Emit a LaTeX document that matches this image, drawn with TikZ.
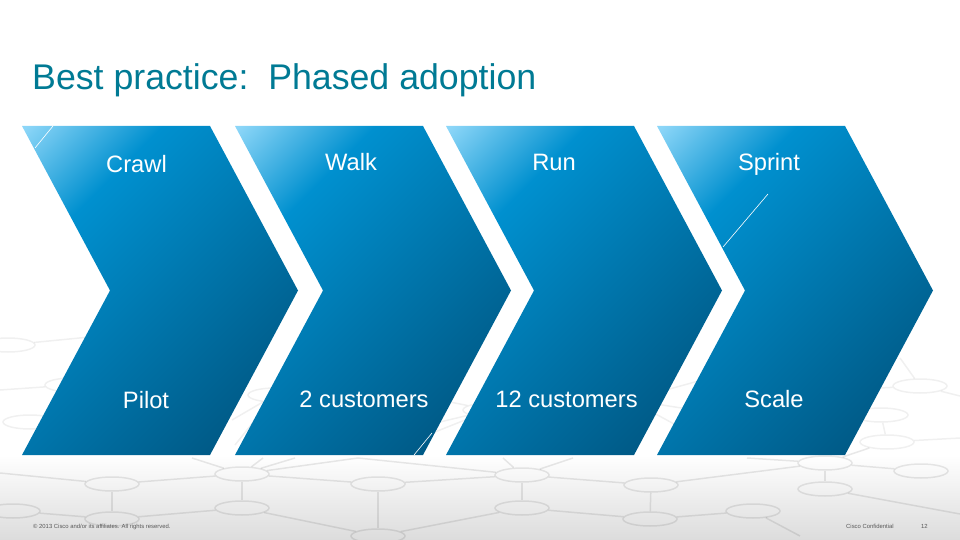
\documentclass[tikz,border=0pt]{standalone}
\usepackage{fontspec}
\setmainfont{Liberation Sans}
\usetikzlibrary{shapes.geometric}

\definecolor{titleteal}{HTML}{007A94}
\definecolor{footgray}{HTML}{DCDCDC}
\definecolor{chevlight}{HTML}{8CD6F8}
\definecolor{chevmid}{HTML}{0090CF}
\definecolor{chevdark}{HTML}{004F78}

\pgfdeclarehorizontalshading{chevshade}{100bp}{
    color(0bp)=(chevlight);
    color(15bp)=(chevlight);
    color(31bp)=(chevmid);
    color(84bp)=(chevdark);
    color(100bp)=(chevdark)}

\tikzset{
    netnode/.style={ellipse, draw=black, opacity=0.09, line width=1.5pt, minimum width=54pt, minimum height=14pt, inner sep=0pt},
    netline/.style={draw=black, opacity=0.09, line width=1.5pt},
    highnode/.style={netnode, opacity=0.06},
    highline/.style={netline, opacity=0.06},
    chevlabel/.style={text=white, font=\fontsize{23.7}{28}\selectfont, inner sep=0pt},
    hairline/.style={draw=white, line width=0.6pt},
    footnote/.style={text=black!65, font=\fontsize{5.9}{7}\selectfont, inner sep=0pt}
}

\begin{document}
\begin{tikzpicture}[x=1pt, y=-1pt]
    \useasboundingbox (0,0) rectangle (960,540);

    % Grey band at the foot of the slide
    \shade[top color=white, bottom color=footgray] (0,455) rectangle (960,540);

    % Network in the background
    \node[netnode] (a1) at (112,484) {};
    \node[netnode] (a2) at (242,474) {};
    \node[netnode] (a3) at (378,484) {};
    \node[netnode] (a4) at (522,475) {};
    \node[netnode] (a5) at (651,485) {};
    \node[netnode] (a6) at (825,463) {};
    \node[netnode] (b0) at (13,511) {};
    \node[netnode] (b1) at (112,519) {};
    \node[netnode] (b2) at (242,508) {};
    \node[netnode] (b3) at (378,536) {};
    \node[netnode] (b4) at (522,508) {};
    \node[netnode] (b5) at (650,519) {};
    \node[netnode] (b6) at (753,511) {};
    \node[netnode] (b7) at (825,489) {};
    \node[netnode] (c1) at (921,471) {};
    \node[highnode] (c2) at (887,442) {};
    \node[highnode] (c3) at (881,415) {};
    \node[highnode] (c4) at (920,386) {};
    \node[highnode] (d1) at (8,345) {};
    \node[highnode] (d2) at (72,385) {};
    \node[highnode] (d3) at (30,422) {};
    \node[highnode] (d4) at (275,395) {};
    \node[highnode] (d5) at (490,410) {};
    \node[highnode] (d6) at (630,400) {};

    % Free ends of the lines
    \coordinate (e1) at (0,473);
    \coordinate (e2) at (192,458);
    \coordinate (e3) at (263,458);
    \coordinate (e4) at (295,458);
    \coordinate (e5) at (358,458);
    \coordinate (e6) at (503,458);
    \coordinate (e7) at (573,458);
    \coordinate (e8) at (747,458);
    \coordinate (e9) at (800,536);
    \coordinate (e10) at (960,514);
    \coordinate (e11) at (960,438);
    \coordinate (e12) at (900,358);
    \coordinate (e13) at (960,396);
    \coordinate (e14) at (880,388);
    \coordinate (e15) at (110,335);
    \coordinate (e16) at (0,390);
    \coordinate (e17) at (110,420);
    \coordinate (e18) at (232,420);
    \coordinate (e19) at (235,445);
    \coordinate (e20) at (720,375);
    \coordinate (e21) at (720,414);
    \coordinate (e22) at (720,449);
    \coordinate (e23) at (440,400);
    \coordinate (e24) at (440,422);
    \coordinate (e25) at (425,436);

    \draw[netline] (e1) -- (a1);
    \draw[netline] (a1) -- (a2);
    \draw[netline] (a2) -- (a3);
    \draw[netline] (a3) -- (a4);
    \draw[netline] (a4) -- (a5);
    \draw[netline] (a5) -- (a6);
    \draw[netline] (b0) -- (b1);
    \draw[netline] (b1) -- (b2);
    \draw[netline] (b2) -- (b3);
    \draw[netline] (b3) -- (b4);
    \draw[netline] (b4) -- (b5);
    \draw[netline] (b5) -- (b6);
    \draw[netline] (b6) -- (e9);
    % Uprights
    \draw[netline] (a1) -- (b1);
    \draw[netline] (a2) -- (b2);
    \draw[netline] (a3) -- (b3);
    \draw[netline] (a4) -- (b4);
    \draw[netline] (a5) -- (b5);
    \draw[netline] (a6) -- (b7);
    % Spokes that stop under the arrows
    \draw[netline] (a2) -- (e2);
    \draw[netline] (a2) -- (e3);
    \draw[netline] (a2) -- (e4);
    \draw[netline] (a2) -- (e5) -- (a4);
    \draw[netline] (a4) -- (e6);
    \draw[netline] (a4) -- (e7);
    \draw[netline] (a6) -- (e8);
    % Right hand side
    \draw[netline] (a6) -- (c1);
    \draw[netline] (a6) -- (c2);
    \draw[netline] (b7) -- (e10);
    \draw[highline] (c2) -- (e11);
    \draw[highline] (c4) -- (e12);
    \draw[highline] (c4) -- (e13);
    \draw[highline] (c4) -- (e14);
    \draw[highline] (c2) -- (c3);
    % Left hand side
    \draw[highline] (d1) -- (e15);
    \draw[highline] (e16) -- (d2);
    \draw[highline] (d3) -- (e17);
    % Seen through the gaps
    \draw[highline] (d4) -- (e18);
    \draw[highline] (d4) -- (e19);
    \draw[highline] (d5) -- (e23);
    \draw[highline] (d5) -- (e24);
    \draw[highline] (d5) -- (e25);
    \draw[highline] (d6) -- (e20);
    \draw[highline] (d6) -- (e21);
    \draw[highline] (d6) -- (e22);

    % The four arrows
    \foreach \xoff in {22,235,446,657} {
        \shade[shading=chevshade, shading angle=-45]
            (\xoff,126) -- ++(188,0) -- ++(88,164.5) -- ++(-88,164.5)
            -- ++(-188,0) -- ++(88,-164.5) -- cycle;
    }

    % Stray thin lines on the arrows
    \coordinate (h1a) at (53,126);
    \coordinate (h1b) at (35,148);
    \coordinate (h2a) at (432,433);
    \coordinate (h2b) at (414,455);
    \coordinate (h3a) at (768,194);
    \coordinate (h3b) at (723,247);
    \draw[hairline] (h1a) -- (h1b);
    \draw[hairline] (h2a) -- (h2b);
    \draw[hairline] (h3a) -- (h3b);

    % Title
    \node[anchor=base west, text=titleteal, font=\fontsize{35.7}{42}\selectfont, inner sep=0pt] (title) at (32,90) {Best practice:\ \ Phased adoption};

    % Labels in the arrows
    \node[chevlabel, anchor=base] (crawl) at (136.5,172) {Crawl};
    \node[chevlabel, anchor=base] (walk) at (351,171) {Walk};
    \node[chevlabel, anchor=base] (run) at (554,171) {Run};
    \node[chevlabel, anchor=base] (sprint) at (769,171) {Sprint};
    \node[chevlabel, anchor=base] (pilot) at (146,408) {Pilot};
    \node[chevlabel, anchor=base] (cust2) at (364,407) {2 customers};
    \node[chevlabel, anchor=base] (cust12) at (566.5,407) {12 customers};
    \node[chevlabel, anchor=base] (scale) at (774,407) {Scale};

    % Small print
    \node[footnote, anchor=base west] (copyright) at (33,528) {© 2013 Cisco and/or its affiliates. All rights reserved.};
    \node[footnote, anchor=base west] (confidential) at (846,528) {Cisco Confidential};
    \node[footnote, anchor=base west] (pageno) at (921,528) {12};
\end{tikzpicture}
\end{document}
